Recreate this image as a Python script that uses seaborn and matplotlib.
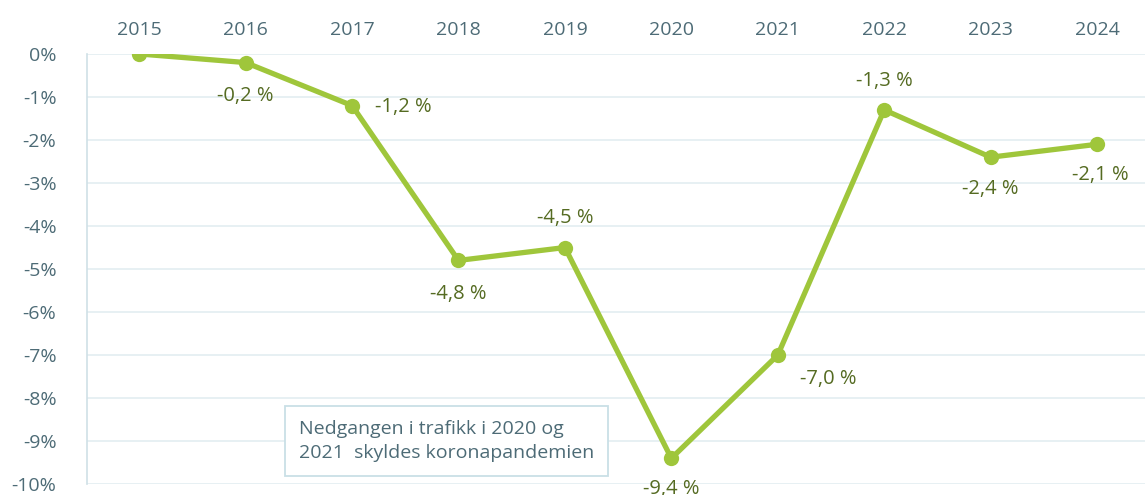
import matplotlib
matplotlib.use('Agg')
import matplotlib.pyplot as plt
import seaborn as sns
import pandas as pd

# Data
years = ['2015', '2016', '2017', '2018', '2019', '2020', '2021', '2022', '2023', '2024']
change = [0.0, -0.2, -1.2, -4.8, -4.5, -9.4, -7.0, -1.3, -2.4, -2.1]
labels = ['', '-0,2 %', '-1,2 %', '-4,8 %', '-4,5 %', '-9,4 %', '-7,0 %', '-1,3 %', '-2,4 %', '-2,1 %']
# label offsets in points (dx, dy)
offsets = [(0, 0), (0, -24), (37, -1), (0, -24), (0, 21), (0, -22), (36, -17), (0, 21), (0, -23), (2, -22)]
yticks = list(range(0, -11, -1))
ytick_labels = [f'{t}%' for t in yticks]

df = pd.DataFrame({'Year': years, 'Change': change})
df['pos'] = range(len(df))

sns.set_style('white')
plt.rcParams['font.family'] = ['Open Sans', 'DejaVu Sans']

line_col = '#9fc63b'
text_col = '#556b22'
tick_col = '#4d6b76'
grid_col = '#e3edf1'

fig = plt.figure(figsize=(11.45, 4.95), dpi=100)
ax = fig.add_axes([0.076, 0.022, 0.924, 0.869])

sns.lineplot(data=df, x='pos', y='Change', color=line_col, linewidth=3.8,
             marker='o', markersize=11, markeredgewidth=0, ax=ax)

for i, (lab, (dx, dy)) in enumerate(zip(labels, offsets)):
    if lab:
        ax.annotate(lab, (i, change[i]), xytext=(dx, dy), textcoords='offset points',
                    ha='center', va='center', fontsize=14.5, color=text_col,
                    annotation_clip=False)

ax.set_xlim(-0.49, 9.45)
ax.set_ylim(-10, 0)
ax.set_yticks(yticks)
ax.set_yticklabels(ytick_labels)
ax.set_xticks(range(len(years)))
ax.set_xticklabels(years)
ax.xaxis.tick_top()
ax.tick_params(axis='both', length=0, labelsize=14, labelcolor=tick_col)
ax.tick_params(axis='x', pad=11)
ax.tick_params(axis='y', pad=22)
ax.set_xlabel('')
ax.set_ylabel('')
ax.grid(axis='y', color=grid_col, linewidth=1.2)
ax.set_axisbelow(True)
for s in ['top', 'right', 'bottom']:
    ax.spines[s].set_visible(False)
ax.spines['left'].set_color('#cfe0e6')
ax.spines['left'].set_linewidth(1.2)

ax.text(1.5, -9.0, 'Nedgangen i trafikk i 2020 og\n2021  skyldes koronapandemien',
        fontsize=14, color='#4d6b76', ha='left', va='center', linespacing=1.45,
        bbox=dict(boxstyle='square,pad=0.7', facecolor='white', edgecolor='#c9dfe6', linewidth=1.3))

fig.savefig('out.png', dpi=100)
